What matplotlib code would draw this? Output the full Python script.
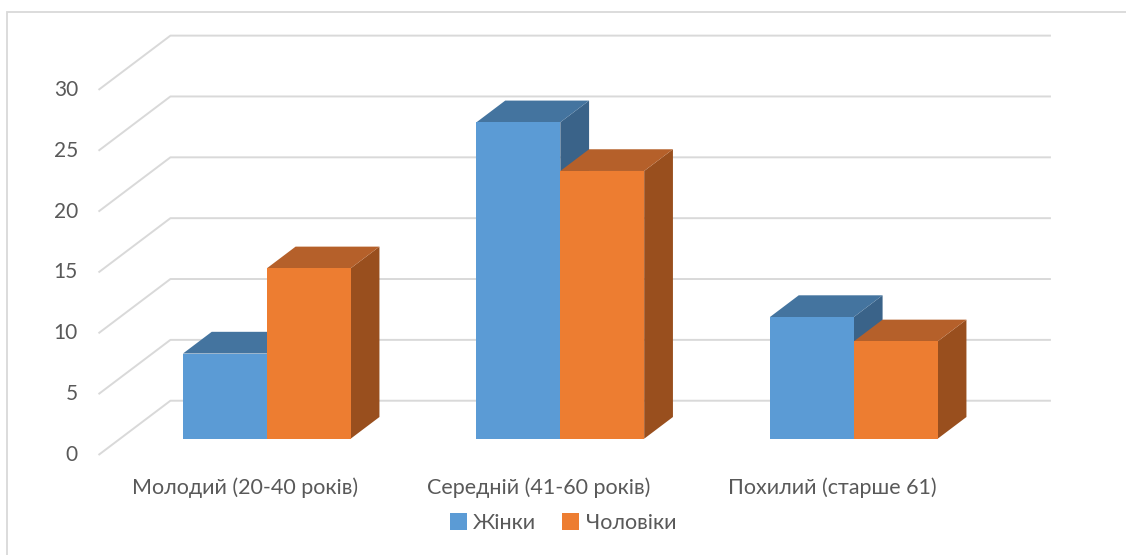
import numpy as np
import matplotlib.pyplot as plt
from matplotlib.patches import Polygon, Patch, Rectangle

plt.rcParams['font.family'] = ['Lato', 'DejaVu Sans']

# data
categories = ['Молодий (20-40 років)', 'Середній (41-60 років)', 'Похилий (старше 61)']
series = ['Жінки', 'Чоловіки']
women = [7, 26, 10]
men = [14, 22, 8]
ticks = [0, 5, 10, 15, 20, 25, 30]

front_c = ['#5B9BD5', '#ED7D31']
top_c = ['#44749F', '#B5602A']
side_c = ['#3A6389', '#994F1E']
grid_c = '#D9D9D9'
txt_c = '#595959'

# pseudo-3d geometry (in data units)
DX, DY = 0.245, 4.46          # full depth offset
d0, d1 = 0.3, 0.7             # bar depth range
bw = 1 / 3.5                  # bar width (gap 150%)


def P(x, v, d):
    return (x + d * DX, v + d * DY)


fig = plt.figure(figsize=(11.26, 5.55), dpi=100)
ax = fig.add_axes([0, 0, 1, 1])
ax.set_xlim(-98.5 / 293.5, (1126 - 98.5) / 293.5)
ax.set_ylim(-100 / 12.17, 455 / 12.17)
ax.axis('off')

ncat = len(categories)

# gridlines: side wall diagonal + back wall
for t in ticks:
    xs, ys = zip(P(0, t, 0), P(0, t, 1), P(ncat, t, 1))
    ax.plot(xs, ys, color=grid_c, lw=1.4, zorder=1, solid_capstyle='butt')
    ax.text(-0.07, t, str(t), ha='right', va='center', fontsize=15, color=txt_c)

# bars
vals = [women, men]
for i in range(ncat):
    for s in range(2):
        v = vals[s][i]
        x0 = i + 0.5 - bw + s * bw
        x1 = x0 + bw
        side = [P(x1, 0, d0), P(x1, 0, d1), P(x1, v, d1), P(x1, v, d0)]
        top = [P(x0, v, d0), P(x1, v, d0), P(x1, v, d1), P(x0, v, d1)]
        front = [P(x0, 0, d0), P(x1, 0, d0), P(x1, v, d0), P(x0, v, d0)]
        z = 2 + i * 3 + s
        ax.add_patch(Polygon(side, closed=True, fc=side_c[s], ec='none', zorder=z))
        ax.add_patch(Polygon(top, closed=True, fc=top_c[s], ec='none', zorder=z))
        ax.add_patch(Polygon(front, closed=True, fc=front_c[s], ec='none', zorder=z))

for i, c in enumerate(categories):
    ax.text(i + 0.5, -2.71, c, ha='center', va='center', fontsize=15.5, color=txt_c)

# chart border
fig.patches.append(Rectangle((7 / 1126, -0.1), 1.2, 1 - 12 / 555 + 0.1,
                             transform=fig.transFigure, fill=False,
                             ec=grid_c, lw=1.3))

handles = [Patch(fc=front_c[k], ec='none') for k in range(2)]
fig.legend(handles, series, loc='center', bbox_to_anchor=(0.5, 1 - 523 / 555),
           ncol=2, frameon=False, fontsize=15.5, labelcolor=txt_c,
           handlelength=0.8, handleheight=0.8, handletextpad=0.3,
           columnspacing=1.2)

fig.savefig('out.png', dpi=100)
